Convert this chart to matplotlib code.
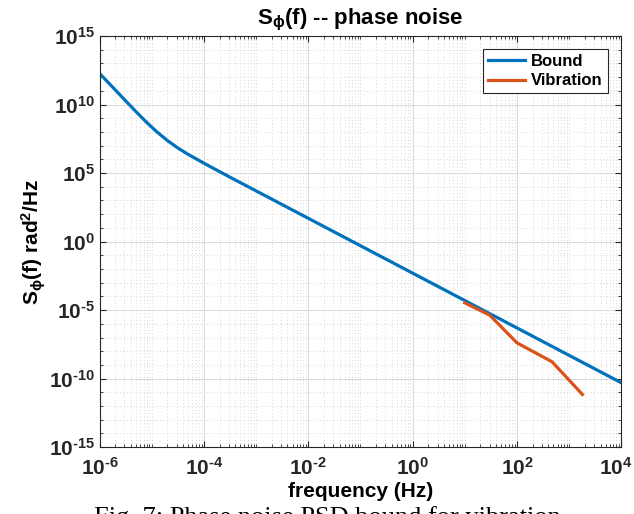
import numpy as np
import matplotlib
matplotlib.use("Agg")
import matplotlib.pyplot as plt
from matplotlib.ticker import LogLocator, NullFormatter, FixedLocator, FuncFormatter
from matplotlib.transforms import ScaledTranslation

plt.rcParams["font.family"] = ["Liberation Sans", "DejaVu Sans"]
plt.rcParams["font.weight"] = "bold"
plt.rcParams["axes.unicode_minus"] = False
plt.rcParams["mathtext.fontset"] = "custom"
plt.rcParams["mathtext.rm"] = "Liberation Sans:bold"
plt.rcParams["mathtext.it"] = "Liberation Sans:bold:italic"
plt.rcParams["mathtext.bf"] = "Liberation Sans:bold"
plt.rcParams["mathtext.default"] = "rm"

# bound curve
bound_f = [1e-6, 2e-6, 3.16e-6, 5e-6, 7.9e-6, 1.26e-5, 2e-5, 3.16e-5, 5e-5,
           1e-4, 3.16e-4, 1e-3, 1e-2, 1e-1, 1e0, 1e1, 1e2, 1e3, 1e4]
bound_s = [1.86e12, 1.17e11, 1.86e10, 3.0e9, 5.2e8, 1.0e8, 2.34e7, 6.8e6, 2.3e6,
           5.2e5, 5.0e4, 5.0e3, 50, 0.5, 5.0e-3, 5.0e-5, 5.0e-7, 5.0e-9, 5.0e-11]

# vibration curve
vib_f = [10, 30, 100, 470, 1800]
vib_s = [3.4e-5, 4.3e-6, 4.1e-8, 1.7e-9, 7e-12]

x_major = [1e-6, 1e-4, 1e-2, 1e0, 1e2, 1e4]
y_major = [1e-15, 1e-10, 1e-5, 1e0, 1e5, 1e10, 1e15]


def pow10(v, pos):
    e = int(round(np.log10(v)))
    s = str(abs(e))
    if e < 0:
        s = r"\text{-}" + s
    return r"$10^{%s}$" % s


fig = plt.figure(figsize=(6.34, 5.14), dpi=100)
ax = fig.add_axes([0.157, 0.130, 0.823, 0.800])

ax.plot(bound_f, bound_s, color="#0072BD", lw=2.3, label="Bound")
ax.plot(vib_f, vib_s, color="#D95319", lw=2.3, label="Vibration")

ax.set_xscale("log")
ax.set_yscale("log")
ax.set_xlim(1e-6, 1e4)
ax.set_ylim(1e-15, 1e15)

ax.xaxis.set_major_locator(FixedLocator(x_major))
ax.yaxis.set_major_locator(FixedLocator(y_major))
ax.xaxis.set_major_formatter(FuncFormatter(pow10))
ax.yaxis.set_major_formatter(FuncFormatter(pow10))
ax.xaxis.set_minor_locator(LogLocator(base=10, subs=np.arange(1, 10), numticks=100))
ax.yaxis.set_minor_locator(LogLocator(base=10, subs=[1.0], numticks=100))
ax.xaxis.set_minor_formatter(NullFormatter())
ax.yaxis.set_minor_formatter(NullFormatter())

ax.grid(True, which="major", color="#d9d9d9", lw=0.7, ls="-")
ax.grid(True, which="minor", color="#cccccc", lw=0.6, ls=(0, (1, 3)))
ax.set_axisbelow(True)

ax.tick_params(which="both", direction="in", top=True, right=True, colors="#262626")
ax.tick_params(which="major", length=4, labelsize=15)
ax.tick_params(axis="y", which="major", pad=3)
ax.tick_params(axis="x", which="major", pad=7)
ax.tick_params(which="minor", length=2.5)
for sp in ax.spines.values():
    sp.set_color("#262626")
    sp.set_linewidth(0.8)

ax.set_title(r"S$_{\phi}$(f) -- phase noise", fontsize=16, fontweight="bold", pad=8)
ax.set_xlabel("frequency (Hz)", fontsize=15, fontweight="bold", labelpad=2)
ax.set_ylabel(r"S$_{\phi}$(f) rad$^2$/Hz", fontsize=15, fontweight="bold", labelpad=1)

leg = ax.legend(loc="upper right", fontsize=12, fancybox=False, framealpha=1,
                edgecolor="#262626", handlelength=2.2, borderaxespad=0.8,
                borderpad=0.3, labelspacing=0.25, handletextpad=0.4)
leg.get_frame().set_linewidth(0.8)

# nudge the last x label so it stays inside the figure
fig.canvas.draw()
last = ax.get_xticklabels()[-1]
last.set_transform(last.get_transform() + ScaledTranslation(-4 / 72, 0, fig.dpi_scale_trans))

fig.text(0.517, -0.020, "Fig. 7: Phase noise PSD bound for vibration",
         family="Liberation Serif", fontweight="normal", fontsize=19,
         ha="center", va="baseline")

fig.savefig("out.png", dpi=100)
